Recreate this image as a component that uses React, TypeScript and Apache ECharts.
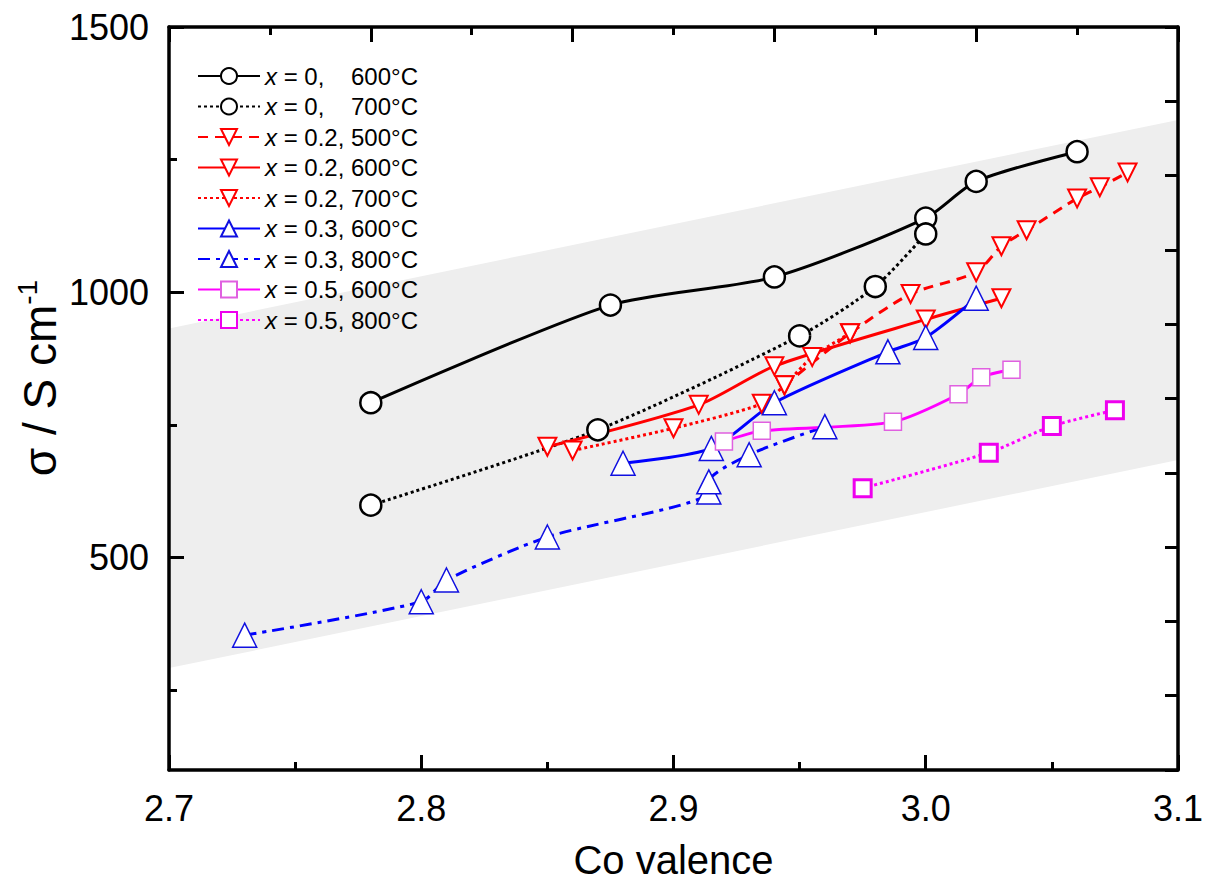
import React, { useEffect, useRef } from "react";
import * as echarts from "echarts";

const FONT = "'Liberation Sans', Arial, sans-serif";

// y ticks
const yMajorTicks = [500, 1000, 1500];
const yMinorTicks = [250, 750, 1250];

// grey band corners (Co valence, sigma)
const bandX = [2.7, 3.1, 3.1, 2.7];
const bandY = [932, 1325, 684, 292];

// series
const names = [
  "x = 0, 600°C",
  "x = 0, 700°C",
  "x = 0.2, 500°C",
  "x = 0.2, 600°C",
  "x = 0.2, 700°C",
  "x = 0.3, 600°C",
  "x = 0.3, 800°C",
  "x = 0.5, 600°C",
  "x = 0.5, 800°C",
];

const x0_600 = [2.78, 2.875, 2.94, 3.0, 3.02, 3.06];
const y0_600 = [792, 976, 1029, 1140, 1209, 1265];

const x0_700 = [2.78, 2.87, 2.95, 2.98, 3.0];
const y0_700 = [599, 741, 918, 1011, 1110];

const x02_500 = [2.944, 2.97, 2.994, 3.02, 3.03, 3.04, 3.06, 3.069, 3.08];
const y02_500 = [825, 923, 997, 1038, 1087, 1117, 1177, 1198, 1226];

const x02_600 = [2.85, 2.91, 2.94, 3.0, 3.03];
const y02_600 = [709, 788, 861, 949, 989];

const x02_700 = [2.86, 2.9, 2.935, 2.944, 2.955, 2.97];
const y02_700 = [702, 744, 790, 825, 878, 923];

const x03_600 = [2.88, 2.915, 2.94, 2.985, 3.0, 3.02];
const y03_600 = [678, 706, 792, 888, 915, 989];

const x03_800 = [2.73, 2.8, 2.81, 2.85, 2.914, 2.914, 2.93, 2.96];
const y03_800 = [354, 417, 458, 539, 624, 643, 694, 747];

const x05_600 = [2.92, 2.935, 2.987, 3.013, 3.022, 3.034];
const y05_600 = [719, 739, 756, 808, 840, 854];

const x05_800 = [2.975, 3.025, 3.05, 3.075];
const y05_800 = [631, 698, 748, 778];

const pairs = (xs: number[], ys: number[]) => xs.map((x, i) => [x, ys[i]]);

export default function App() {
  const ref = useRef<HTMLDivElement>(null);
  useEffect(() => {
    if (!ref.current) return;
    const chart = echarts.init(ref.current, undefined, { renderer: "svg" });

    const mk = (
      name: string,
      xs: number[],
      ys: number[],
      color: string,
      lineType: any,
      symbol: string,
      size: number,
      borderColor: string,
      borderWidth: number,
      rotate = 0,
      lineWidth = 3
    ) => ({
      type: "line",
      name,
      data: pairs(xs, ys),
      xAxisIndex: 0,
      yAxisIndex: 0,
      smooth: 0.25,
      symbol,
      symbolSize: size,
      symbolRotate: rotate,
      showAllSymbol: true,
      z: 3,
      lineStyle: { color, width: lineWidth, type: lineType, cap: "butt" },
      itemStyle: { color: "#ffffff", borderColor, borderWidth },
      emphasis: { disabled: true },
    });

    const series: any[] = [
      {
        type: "custom",
        name: "band",
        xAxisIndex: 0,
        yAxisIndex: 0,
        silent: true,
        z: 0,
        clip: true,
        data: [[2.9, 800]],
        renderItem: (_p: any, api: any) => {
          const pts = bandX.map((x, i) => api.coord([x, bandY[i]]));
          return { type: "polygon", shape: { points: pts }, style: { fill: "#eeeeee" } };
        },
      },
      mk(names[0], x0_600, y0_600, "#000000", "solid", "circle", 21, "#000000", 2.5),
      mk(names[1], x0_700, y0_700, "#000000", [3, 3], "circle", 21, "#000000", 2.5),
      mk(names[2], x02_500, y02_500, "#ff0000", [10, 7], "triangle", 18, "#ff0000", 2, 180),
      mk(names[3], x02_600, y02_600, "#ff0000", "solid", "triangle", 18, "#ff0000", 2, 180),
      mk(names[4], x02_700, y02_700, "#ff0000", [3, 3], "triangle", 18, "#ff0000", 2, 180),
      mk(names[5], x03_600, y03_600, "#0000ff", "solid", "triangle", 24, "#1010e0", 1.5),
      mk(names[6], x03_800, y03_800, "#0000ff", [12, 6, 4, 6], "triangle", 24, "#1010e0", 1.5),
      mk(names[7], x05_600, y05_600, "#ff00ff", "solid", "rect", 17, "#e060e0", 1.5),
      mk(names[8], x05_800, y05_800, "#ff00ff", [3, 3], "rect", 17, "#ee00ee", 3),
    ];

    const axisLine = { show: true, lineStyle: { color: "#000", width: 3.5 } };

    chart.setOption({
      animation: false,
      backgroundColor: "#ffffff",
      grid: { left: 169, right: 28, top: 27, bottom: 118, containLabel: false },
      legend: {
        data: names,
        orient: "vertical",
        left: 197,
        top: 64,
        padding: 0,
        itemWidth: 62,
        itemHeight: 20,
        itemGap: 6.5,
        selectedMode: false,
        formatter: (n: string) => {
          const m = n.match(/^x = (.*?), (.*)$/);
          if (!m) return n;
          return `{i|x}{a| = ${m[1]},}{b|${m[2]}}`;
        },
        textStyle: {
          color: "#000",
          fontFamily: FONT,
          fontSize: 24,
          rich: {
            i: { fontStyle: "italic", fontSize: 24, fontFamily: FONT, color: "#000" },
            a: { fontSize: 24, fontFamily: FONT, color: "#000", width: 74 },
            b: { fontSize: 24, fontFamily: FONT, color: "#000" },
          },
        },
      },
      xAxis: [
        {
          type: "value",
          position: "bottom",
          min: 2.7,
          max: 3.1,
          interval: 0.1,
          axisLine,
          axisTick: { show: true, inside: true, length: 15, lineStyle: { color: "#000", width: 3 } },
          minorTick: { show: true, splitNumber: 2, length: 8, lineStyle: { color: "#000", width: 3 } },
          splitLine: { show: false },
          axisLabel: {
            color: "#000",
            fontSize: 36,
            fontFamily: FONT,
            margin: 20,
            formatter: (v: number) => v.toFixed(1),
          },
          name: "Co valence",
          nameLocation: "middle",
          nameGap: 70,
          nameTextStyle: { color: "#000", fontSize: 40, fontFamily: FONT },
        },
        {
          type: "value",
          position: "top",
          min: 0,
          max: 10,
          interval: 2,
          axisLine,
          axisTick: { show: true, inside: true, length: 15, lineStyle: { color: "#000", width: 3 } },
          minorTick: { show: true, splitNumber: 2, length: 8, lineStyle: { color: "#000", width: 3 } },
          splitLine: { show: false },
          axisLabel: { show: false },
        },
      ],
      yAxis: [
        {
          type: "value",
          position: "left",
          min: 100,
          max: 1500,
          axisLine,
          axisTick: {
            show: true,
            inside: true,
            length: 15,
            customValues: yMajorTicks,
            lineStyle: { color: "#000", width: 3 },
          },
          splitLine: { show: false },
          axisLabel: {
            color: "#000",
            fontSize: 36,
            fontFamily: FONT,
            margin: 20,
            customValues: yMajorTicks,
            formatter: (v: number) => String(v),
          },
        },
        {
          type: "value",
          position: "left",
          min: 100,
          max: 1500,
          axisLine: { show: false },
          axisTick: {
            show: true,
            inside: true,
            length: 8,
            customValues: yMinorTicks,
            lineStyle: { color: "#000", width: 3 },
          },
          splitLine: { show: false },
          axisLabel: { show: false },
        },
        {
          type: "value",
          position: "right",
          min: 0,
          max: 10,
          interval: 1,
          axisLine,
          axisTick: { show: true, inside: true, length: 13, lineStyle: { color: "#000", width: 3 } },
          splitLine: { show: false },
          axisLabel: { show: false },
        },
      ],
      graphic: [
        {
          type: "text",
          x: 38,
          y: 378,
          rotation: Math.PI / 2,
          z: 10,
          style: {
            text: "{a|σ / S cm}{b|-1}",
            align: "center",
            verticalAlign: "middle",
            fill: "#000",
            rich: {
              a: { fontSize: 46, fontFamily: FONT, fill: "#000", lineHeight: 50, verticalAlign: "bottom" },
              b: { fontSize: 28, fontFamily: FONT, fill: "#000", lineHeight: 50, verticalAlign: "top" },
            },
          },
        },
      ],
      series,
    });
    return () => chart.dispose();
  }, []);
  return (
    <div
      ref={ref}
      style={{ position: "fixed", left: 0, top: 0, width: 1206, height: 888, background: "#fff" }}
    />
  );
}
